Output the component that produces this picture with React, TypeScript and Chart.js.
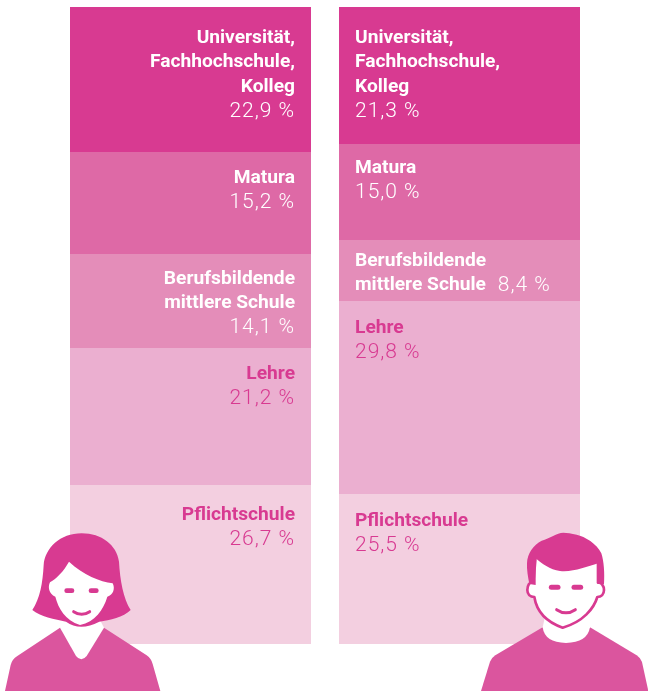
import React, { useEffect, useRef } from "react";
import { Chart, registerables } from "chart.js";

Chart.register(...registerables);

const categories = ["Frauen", "Männer"];
const levels = [
  "Universität, Fachhochschule, Kolleg",
  "Matura",
  "Berufsbildende mittlere Schule",
  "Lehre",
  "Pflichtschule",
];
// Segment lengths as drawn in the picture (share of the column's height, top to bottom)
const drawnWomen = [22.76, 16.01, 14.76, 21.51, 24.96];
const drawnMen = [21.51, 15.07, 9.58, 30.3, 23.55];
// Values as printed in the picture
const printedWomen = ["22,9 %", "15,2 %", "14,1 %", "21,2 %", "26,7 %"];
const printedMen = ["21,3 %", "15,0 %", "8,4 %", "29,8 %", "25,5 %"];
const nameLines = [
  ["Universität,", "Fachhochschule,", "Kolleg"],
  ["Matura"],
  ["Berufsbildende", "mittlere Schule"],
  ["Lehre"],
  ["Pflichtschule"],
];

const fills = ["#D83A91", "#DE69A6", "#E48DB9", "#EBAFD0", "#F3CFE0"];
const textColors = ["#FFFFFF", "#FFFFFF", "#FFFFFF", "#D83A91", "#D83A91"];
const firstBaseline = [
  [36, 31, 30, 31, 35],
  [36, 29, 26, 32, 32],
];
const HAIR = "#D83A91";
const BODY = "#DB559E";
const LINE = 24.4;
const BOLD = "bold 19.2px Roboto, sans-serif";
const LIGHT = "300 21px Roboto, sans-serif";

function pill(ctx: CanvasRenderingContext2D, cx: number, cy: number, w: number, h: number) {
  ctx.beginPath();
  ctx.roundRect(cx - w / 2, cy - h / 2, w, h, h / 2);
  ctx.fill();
}

function smile(ctx: CanvasRenderingContext2D, path: string, w: number) {
  ctx.strokeStyle = HAIR;
  ctx.lineWidth = w;
  ctx.lineCap = "round";
  ctx.stroke(new Path2D(path));
}

function drawWoman(ctx: CanvasRenderingContext2D) {
  ctx.save();
  ctx.translate(0, 520);
  ctx.scale(1 / 3, 1 / 3);
  // body
  ctx.fillStyle = BODY;
  ctx.fill(new Path2D("M15 513 L32 435 Q36 418 52 408 L180 323 L312 323 L440 406 Q454 416 458 432 L481 513 Z"));
  // neck
  ctx.fillStyle = "#FFFFFF";
  ctx.fill(new Path2D("M180 323 L228 408 Q244 428 260 408 L312 323 L300 300 L195 300 Z"));
  // hair
  ctx.fillStyle = HAIR;
  ctx.fill(new Path2D("M245 40 C180 40 135 85 131 135 C128 190 120 235 97 270 C120 290 165 298 198 305 Q240 335 298 305 C330 300 370 292 392 270 C370 235 360 180 357 125 C350 75 305 40 245 40 Z"));
  // face
  ctx.fillStyle = "#FFFFFF";
  ctx.fill(new Path2D("M207 125 C190 155 170 175 150 187 C143 200 146 222 166 230 C175 265 195 300 240 315 C285 305 310 270 322 230 C340 225 346 205 338 190 C300 185 250 165 207 125 Z"));
  ctx.fillStyle = HAIR;
  pill(ctx, 208, 212, 30, 14);
  pill(ctx, 281, 212, 30, 14);
  smile(ctx, "M221 275 Q245 291 269 275", 9);
  ctx.restore();
}

function drawMan(ctx: CanvasRenderingContext2D) {
  ctx.save();
  ctx.translate(470, 520);
  ctx.scale(1 / 3, 1 / 3);
  ctx.fillStyle = BODY;
  ctx.fill(new Path2D("M33 513 L60 425 Q64 414 76 406 L218 322 L360 322 L500 406 Q512 414 516 426 L535 513 Z"));
  // neck and collar
  ctx.fillStyle = "#FFFFFF";
  ctx.fill(new Path2D("M218 322 Q224 368 288 369 Q352 368 360 322 L350 290 L225 290 Z"));
  // head silhouette with ears
  const head = new Path2D("M190 188 C178 183 172 198 172 210 C172 222 180 231 193 231 C198 262 218 302 278 323 C340 305 372 265 382 231 C394 231 402 222 402 210 C402 198 394 186 384 188 L384 120 L197 110 Z");
  ctx.fillStyle = "#FFFFFF";
  ctx.fill(head);
  ctx.strokeStyle = HAIR;
  ctx.lineWidth = 8;
  ctx.lineJoin = "round";
  ctx.stroke(head);
  // hair
  ctx.fillStyle = HAIR;
  ctx.fill(new Path2D("M280 38 C260 38 240 55 215 62 C190 75 172 100 171 130 C170 150 174 172 178 192 L197 195 L197 115 C215 130 240 150 270 153 C310 157 350 140 385 130 L385 192 L402 192 C404 160 402 125 394 100 C380 70 345 50 320 44 C305 40 290 38 280 38 Z"));
  pill(ctx, 254, 202, 35, 15);
  pill(ctx, 322, 202, 35, 15);
  smile(ctx, "M260 269 Q288 288 316 269", 9);
  ctx.restore();
}

const overlay = {
  id: "overlay",
  afterDatasetsDraw(chart: any) {
    const ctx: CanvasRenderingContext2D = chart.ctx;
    ctx.save();
    ctx.textBaseline = "alphabetic";
    levels.forEach((_, i) => {
      const bars = chart.getDatasetMeta(i).data;
      [0, 1].forEach((col) => {
        const bar = bars[col];
        const p = bar.getProps(["x", "y", "base", "width"], true);
        const top = Math.min(p.y, p.base);
        const right = col === 0;
        const x = right ? p.x + p.width / 2 - 16 : p.x - p.width / 2 + 16;
        ctx.textAlign = right ? "right" : "left";
        ctx.fillStyle = textColors[i];
        let y = top + firstBaseline[col][i];
        ctx.font = BOLD;
        (ctx as any).letterSpacing = "0px";
        const lines = nameLines[i];
        lines.forEach((line) => {
          ctx.fillText(line, x, y);
          y += LINE;
        });
        const value = (col === 0 ? printedWomen : printedMen)[i];
        let vx = x;
        let vy = y + 0.6;
        if (col === 1 && i === 2) {
          vx = x + ctx.measureText(lines[1]).width + 12;
          vy = y - LINE + 0.6;
        }
        ctx.font = LIGHT;
        (ctx as any).letterSpacing = "1px";
        ctx.fillText(value, vx, vy);
      });
    });
    ctx.restore();
    drawWoman(ctx);
    drawMan(ctx);
  },
};

export default function App() {
  const ref = useRef<HTMLCanvasElement>(null);
  useEffect(() => {
    document.body.style.margin = "0";
    const chart = new Chart(ref.current!, {
      type: "bar",
      data: {
        labels: categories,
        datasets: levels.map((label, i) => ({
          label,
          data: [drawnWomen[i], drawnMen[i]],
          backgroundColor: fills[i],
          borderWidth: 0,
          barPercentage: 241 / 269,
          categoryPercentage: 1,
        })),
      },
      options: {
        animation: false,
        responsive: false,
        layout: { padding: { left: 56, right: 54, top: 7, bottom: 47 } },
        plugins: { legend: { display: false }, tooltip: { enabled: false } },
        scales: {
          x: { stacked: true, display: false, grid: { display: false } },
          y: { stacked: true, display: false, reverse: true, min: 0, max: 100, grid: { display: false } },
        },
      },
      plugins: [overlay],
    });
    return () => chart.destroy();
  }, []);
  return <canvas ref={ref} width={648} height={691} style={{ display: "block" }} />;
}
